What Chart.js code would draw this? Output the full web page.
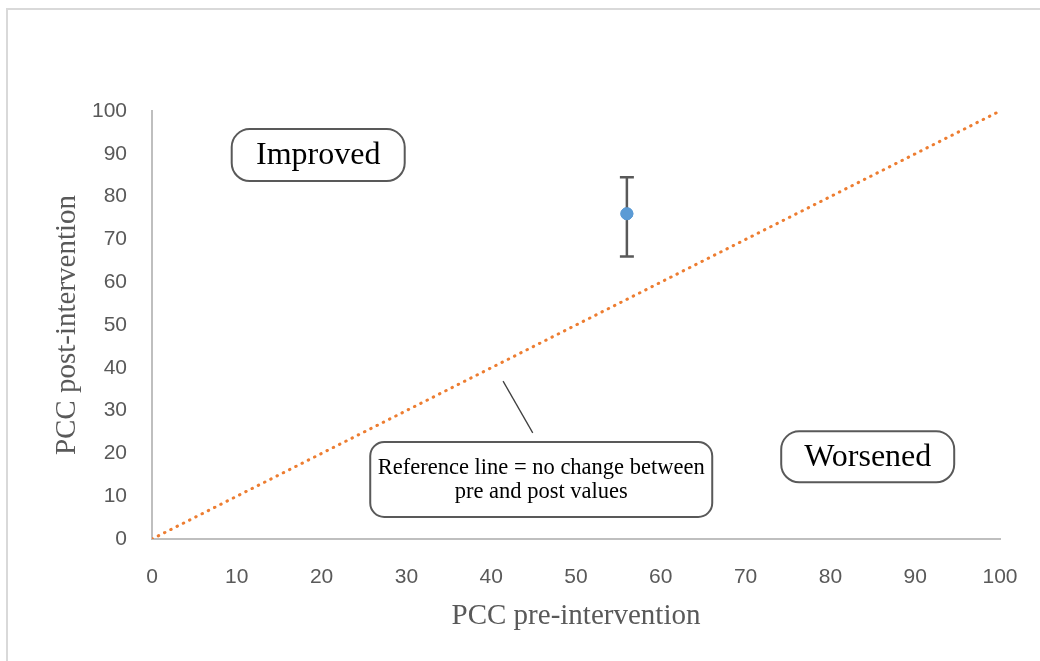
<!DOCTYPE html>
<html>
<head>
<meta charset="utf-8">
<script src="https://cdn.jsdelivr.net/npm/chart.js@4.4.1/dist/chart.umd.min.js"></script>
<style>
  html, body { margin: 0; padding: 0; background: #ffffff; }
  #wrap { position: relative; width: 1040px; height: 661px; overflow: hidden; }
  #frame { position: absolute; left: 6px; top: 8px; width: 1100px; height: 700px;
           border-left: 2px solid #d9d9d9; border-top: 2px solid #d9d9d9; }
  canvas { position: absolute; left: 0; top: 0; }
</style>
</head>
<body>
<div id="wrap">
  <div id="frame"></div>
  <canvas id="c" width="1040" height="661"></canvas>
</div>
<script>
// ---- data ----
const xTitle = 'PCC pre-intervention';
const yTitle = 'PCC post-intervention';
const preValues = [56];
const postValues = [76];
const errLow = [66];
const errHigh = [84.5];
const refLineX = [0, 100];
const refLineY = [0, 100];
const axisMin = 0;
const axisMax = 100;
const tickStep = 10;

// annotation labels (anchored at data coordinates)
const noteTexts = [['Improved'], ['Worsened'], ['Reference line = no change between', 'pre and post values']];
const noteX = [19.6, 84.4, 45.9];
const noteY = [89.7, 19.2, 13.9];
const connectorFrom = [41.4, 36.9];
const connectorTo = [44.9, 24.8];

// ---- annotation drawing plugin ----
const annotationPlugin = {
  id: 'annots',
  afterDatasetsDraw(chart) {
    const ctx = chart.ctx;
    const xs = chart.scales.x, ys = chart.scales.y;
    ctx.save();
    // error bars
    ctx.strokeStyle = '#595959';
    ctx.lineWidth = 2.5;
    for (let i = 0; i < preValues.length; i++) {
      const px = xs.getPixelForValue(preValues[i]);
      const pLo = ys.getPixelForValue(errLow[i]);
      const pHi = ys.getPixelForValue(errHigh[i]);
      ctx.beginPath();
      ctx.moveTo(px, pLo); ctx.lineTo(px, pHi);
      ctx.moveTo(px - 7, pLo); ctx.lineTo(px + 7, pLo);
      ctx.moveTo(px - 7, pHi); ctx.lineTo(px + 7, pHi);
      ctx.stroke();
    }
    // redraw point above the error bar
    const meta = chart.getDatasetMeta(1);
    meta.data.forEach(el => el.draw(ctx, chart.chartArea));

    // connector line
    ctx.strokeStyle = '#404040';
    ctx.lineWidth = 1.3;
    ctx.beginPath();
    ctx.moveTo(xs.getPixelForValue(connectorFrom[0]), ys.getPixelForValue(connectorFrom[1]));
    ctx.lineTo(xs.getPixelForValue(connectorTo[0]), ys.getPixelForValue(connectorTo[1]));
    ctx.stroke();

    // boxes
    const styles = [
      {size: 32, w: 173, h: 52, r: 18, lh: 30},
      {size: 32, w: 173, h: 51, r: 18, lh: 30},
      {size: 22.5, w: 342, h: 75, r: 14, lh: 24}
    ];
    noteTexts.forEach((lines, i) => {
      const st = styles[i];
      const cx = xs.getPixelForValue(noteX[i]);
      const cy = ys.getPixelForValue(noteY[i]);
      const x0 = cx - st.w / 2, y0 = cy - st.h / 2;
      ctx.beginPath();
      ctx.roundRect(x0, y0, st.w, st.h, st.r);
      ctx.fillStyle = '#ffffff';
      ctx.fill();
      ctx.strokeStyle = '#595959';
      ctx.lineWidth = 2;
      ctx.stroke();
      ctx.fillStyle = '#000000';
      ctx.font = st.size + 'px "Liberation Serif", "Times New Roman", serif';
      ctx.textAlign = 'center';
      ctx.textBaseline = 'middle';
      const startY = cy - (lines.length - 1) * st.lh / 2;
      lines.forEach((t, k) => ctx.fillText(t, cx, startY + k * st.lh + 1));
    });
    ctx.restore();
  }
};

new Chart(document.getElementById('c'), {
  type: 'scatter',
  data: {
    datasets: [
      {
        type: 'line',
        data: refLineX.map((v, i) => ({x: v, y: refLineY[i]})),
        borderColor: '#ED7D31',
        borderWidth: 3,
        borderDash: [0.5, 6.5],
        borderCapStyle: 'round',
        pointRadius: 0,
        fill: false,
        order: 2
      },
      {
        data: preValues.map((v, i) => ({x: v, y: postValues[i]})),
        backgroundColor: '#5B9BD5',
        borderColor: '#5B9BD5',
        pointRadius: 6,
        pointHoverRadius: 6,
        order: 1
      }
    ]
  },
  plugins: [annotationPlugin],
  options: {
    responsive: false,
    animation: false,
    events: [],
    layout: { padding: { top: 111, right: 40, bottom: 0, left: 0 } },
    plugins: { legend: { display: false }, tooltip: { enabled: false } },
    scales: {
      x: {
        type: 'linear', min: axisMin, max: axisMax,
        afterFit(s) { s.height = 122; s.paddingRight = 0; },
        grid: { display: false, drawTicks: false },
        border: { display: true, color: '#bfbfbf', width: 2 },
        ticks: { stepSize: tickStep, padding: 26, color: '#595959',
                 font: { family: '"Liberation Sans", Arial, sans-serif', size: 21 } },
        title: { display: true, text: xTitle, color: '#595959', padding: { top: 0, bottom: 27 },
                 font: { family: '"Liberation Serif", "Times New Roman", serif', size: 29 } }
      },
      y: {
        type: 'linear', min: axisMin, max: axisMax,
        afterFit(s) { s.width = 152; },
        grid: { display: false, drawTicks: false },
        border: { display: true, color: '#bfbfbf', width: 2 },
        ticks: { stepSize: tickStep, padding: 25, color: '#595959',
                 font: { family: '"Liberation Sans", Arial, sans-serif', size: 21 } },
        title: { display: true, text: yTitle, color: '#595959', padding: { top: 50, bottom: 0 },
                 font: { family: '"Liberation Serif", "Times New Roman", serif', size: 29 } }
      }
    }
  }
});
</script>
</body>
</html>
